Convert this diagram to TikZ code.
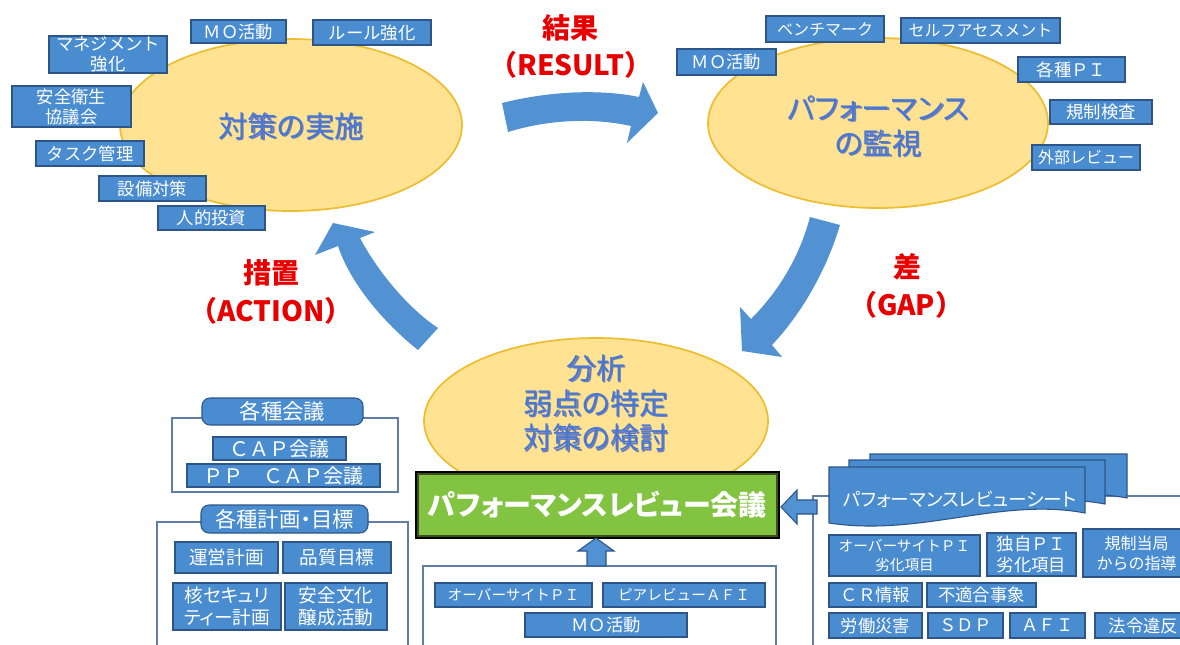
\documentclass[tikz,border=0pt]{standalone}
\usepackage{fontspec}
\newfontfamily\jp{Noto Sans CJK JP}
\newfontfamily\jpp[RawFeature=+palt]{Noto Sans CJK JP}
\usetikzlibrary{shapes.geometric}
\definecolor{boxblue}{RGB}{74,140,208}
\definecolor{boxedge}{RGB}{45,85,135}
\definecolor{arrblue}{RGB}{82,146,210}
\definecolor{ellfill}{RGB}{255,226,146}
\definecolor{elledge}{RGB}{238,190,50}
\definecolor{lblred}{RGB}{232,0,0}
\definecolor{elltext}{RGB}{72,120,212}
\definecolor{ellshadow}{RGB}{110,125,180}
\definecolor{framecol}{RGB}{95,125,165}
\definecolor{greenfill}{RGB}{130,196,66}
\tikzset{
  bbox/.style={draw=boxedge, fill=boxblue, line width=0.8pt, inner sep=0pt, outer sep=0pt,
    text=white, align=center, font=\jp\fontsize{13}{15}\selectfont},
  ell/.style={ellipse, draw=elledge, fill=ellfill, line width=1.3pt, inner sep=0pt},
  etext/.style={text=elltext, align=center, font=\jpp\fontsize{22}{26}\selectfont},
  lbl/.style={text=lblred, font=\jp\bfseries\fontsize{21}{25}\selectfont},
  frameline/.style={draw=framecol, line width=1.1pt},
  curvearrow/.style={fill=arrblue},
  blockarrow/.style={fill=arrblue, draw=boxedge, line width=0.8pt},
  docst/.style={fill=boxblue, draw=boxedge, line width=0.8pt}
}
\newcommand\blk[7][]{%
  \node[bbox,minimum width={(#5-#3)*0.75pt},minimum height={(#6-#4)*0.75pt},#1] (#2) at ({(#3+#5)/2},{(#4+#6)/2}) {#7};}
\newcommand\docshape[4]{%
  \filldraw[docst] ({#1},{#2}) -- ({#3},{#2}) -- ({#3},{#4-10}) .. controls ({#3-(#3-#1)*0.33},{#4-26}) and ({#1+(#3-#1)*0.36},{#4+14}) .. ({#1},{#4}) -- cycle;}
\begin{document}
\begin{tikzpicture}[x=0.75pt,y=-0.75pt]
\useasboundingbox (0,0) rectangle (1180,645);
\fill[white] (0,0) rectangle (1180,645);

% ---- ellipse 1
\node[ell, minimum width=342*0.75pt, minimum height=172*0.75pt] (e1) at (291,125) {};
\node[etext, text=ellshadow] (e1s) at (292.5,127.5) {対策の実施};
\node[etext] (e1t) at (291,126) {対策の実施};

\blk{b1}{191}{20}{286}{43}{ＭＯ活動}
\blk{b2}{313}{20}{431}{45}{ルール強化}
\blk{b3}{49}{36}{167}{73}{マネジメント\\強化}
\blk{b4}{12}{86}{131}{127}{安全衛生\\協議会}
\blk{b5}{36}{141}{144}{166}{タスク管理}
\blk{b6}{99}{176}{206}{201}{設備対策}
\blk{b7}{158}{206}{265}{230}{人的投資}

% ---- ellipse 2
\node[ell, minimum width=340*0.75pt, minimum height=170*0.75pt] (e2) at (878,123) {};
\node[etext, text=ellshadow] (e2s) at (879.5,127.5) {パフォーマンス\\の監視};
\node[etext] (e2t) at (878,126) {パフォーマンス\\の監視};

\blk[font=\jp\fontsize{12}{14}\selectfont]{c1}{766}{16}{884}{42}{ベンチマーク}
\blk[font=\jp\fontsize{12}{14}\selectfont]{c2}{901}{18}{1060}{43}{セルフアセスメント}
\blk{c3}{677}{49}{776}{75}{ＭＯ活動}
\blk{c4}{1018}{57}{1125}{82}{各種ＰＩ}
\blk{c5}{1050}{100}{1152}{124}{規制検査}
\blk[font=\jp\fontsize{12}{14}\selectfont]{c6}{1032}{145}{1140}{170}{外部レビュー}

% ---- curved arrows
\fill[curvearrow] (502,103) .. controls (550,91) and (600,89) .. (639,97) -- (643,82) -- (658,113) -- (627,143) -- (631,126) .. controls (595,118) and (550,119) .. (508,132) -- cycle;
\fill[curvearrow] (810,217) .. controls (800,255) and (780,290) .. (751,319) -- (740,307) -- (742,351) -- (782,357) -- (772,345) .. controls (805,310) and (828,265) .. (840,225) -- cycle;
\fill[curvearrow] (418,350) .. controls (390,328) and (352,288) .. (338,246) -- (315,255) -- (333,223) -- (375,232) -- (360,238) .. controls (378,272) and (408,308) .. (438,328) -- cycle;

\node[lbl] (res1) at (570,28) {結果};
\node[lbl] (res2) at (571,65) {（RESULT）};
\node[lbl] (act1) at (271,273) {措置};
\node[lbl] (act2) at (271,311) {（ACTION）};
\node[lbl] (gap1) at (907,267) {差};
\node[lbl] (gap2) at (906,305) {（GAP）};

% ---- ellipse 3
\node[ell, minimum width=344*0.75pt, minimum height=166*0.75pt] (e3) at (596,421) {};
\node[etext, text=ellshadow] (e3s) at (597.5,404.5) {分析\\弱点の特定\\対策の検討};
\node[etext] (e3t) at (596,403) {分析\\弱点の特定\\対策の検討};

% ---- green box
\draw[black, line width=1pt] (416,472) rectangle (779,538);
\blk[fill=greenfill, draw={rgb,255:red,60;green,80;blue,30}, line width=1.6pt, font=\jpp\bfseries\fontsize{21}{24}\selectfont]{g}{418}{474}{777}{536}{パフォーマンスレビュー会議}

% ---- bottom left
\draw[frameline] (172,418) rectangle (398,492);
\blk[rounded corners=6pt, font=\jp\fontsize{16}{18}\selectfont]{t1}{202}{398}{363}{425}{各種会議}
\blk[font=\jp\fontsize{15}{17}\selectfont]{d1}{213}{437}{346}{460}{ＣＡＰ会議}
\blk[font=\jp\fontsize{15}{17}\selectfont]{d2}{187}{464}{380}{487}{ＰＰ　ＣＡＰ会議}
\draw[frameline] (157,522) rectangle (408,660);
\blk[rounded corners=6pt, font=\jpp\fontsize{16}{18}\selectfont]{t2}{201}{505}{368}{533}{各種計画・目標}
\blk[font=\jp\fontsize{14}{17}\selectfont]{d3}{175}{542}{278}{573}{運営計画}
\blk[font=\jp\fontsize{14}{17}\selectfont]{d4}{283}{542}{391}{573}{品質目標}
\blk[font=\jpp\fontsize{14}{17}\selectfont]{d5}{173}{583}{281}{630}{核セキュリ\\ティー計画}
\blk[font=\jp\fontsize{14}{17}\selectfont]{d6}{285}{583}{387}{630}{安全文化\\醸成活動}

% ---- bottom middle
\draw[frameline] (423,566) rectangle (776,660);
\blk[font=\jp\fontsize{11}{13}\selectfont]{m1}{435}{583}{592}{607}{オーバーサイトＰＩ}
\blk[font=\jp\fontsize{11}{13}\selectfont]{m2}{603}{583}{765}{607}{ピアレビューＡＦＩ}
\blk[font=\jp\fontsize{13}{15}\selectfont]{m3}{525}{613}{687}{637}{ＭＯ活動}
\draw[blockarrow] (587,566) -- (587,551) -- (578,551) -- (596,538) -- (614,551) -- (606,551) -- (606,566) -- cycle;

% ---- bottom right
\draw[frameline] (813,660) -- (813,496) -- (1190,496);
\draw[blockarrow] (817,500) -- (797,500) -- (797,490) -- (781,507) -- (797,524) -- (797,514) -- (817,514) -- cycle;
\docshape{870}{454}{1127}{508}
\docshape{849}{460}{1105}{514}
\docshape{829}{467}{1085}{523}
\node[anchor=west, text=white, font=\jpp\fontsize{14}{16}\selectfont, inner sep=0pt] (sheet) at (843,499) {パフォーマンスレビューシート};

\blk[font=\jp\fontsize{11}{14}\selectfont]{r1}{829}{535}{980}{576}{オーバーサイトＰＩ\\劣化項目}
\blk[font=\jp\fontsize{13}{16}\selectfont]{r2}{987}{533}{1076}{576}{独自ＰＩ\\劣化項目}
\blk[font=\jp\fontsize{12}{15}\selectfont]{r3}{1083}{529}{1190}{577}{規制当局\\からの指導}
\blk[font=\jp\fontsize{13}{15}\selectfont]{r4}{829}{583}{922}{607}{ＣＲ情報}
\blk[font=\jp\fontsize{13}{15}\selectfont]{r5}{927}{583}{1036}{607}{不適合事象}
\blk[font=\jp\fontsize{13}{15}\selectfont]{r6}{829}{613}{922}{638}{労働災害}
\blk[font=\jp\fontsize{13}{15}\selectfont]{r7}{928}{613}{1003}{638}{ＳＤＰ}
\blk[font=\jp\fontsize{13}{15}\selectfont]{r8}{1010}{613}{1085}{638}{ＡＦＩ}
\blk[font=\jp\fontsize{13}{15}\selectfont]{r9}{1095}{613}{1192}{638}{法令違反}
\end{tikzpicture}
\end{document}
